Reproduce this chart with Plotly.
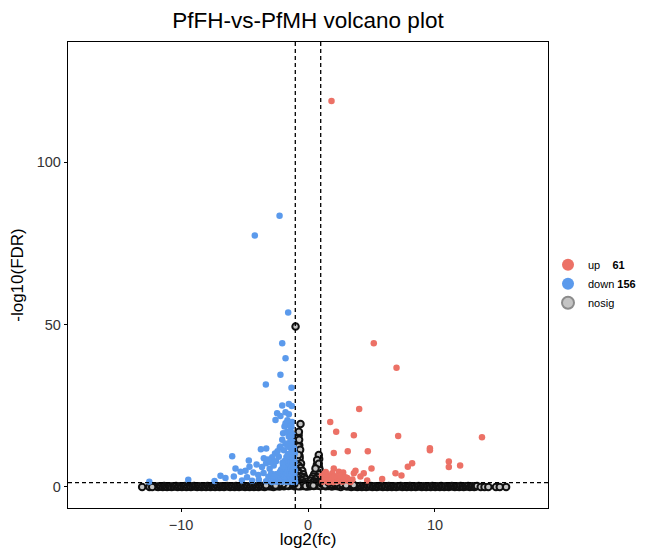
import plotly.graph_objects as go

# log2 fold change / -log10(FDR)
up_x = [1.85, 5.18, 6.97, 4.03, 1.75, 2.22, 3.61, 7.10, 13.70, 2.03,
        3.13, 4.71, 9.60, 9.60, 11.09, 11.09, 11.98, 8.20, 7.86, 5.00,
        6.89, 7.36, 5.84, 4.39, 4.13, 3.61, 3.74, 2.03, 2.43, 2.77,
        1.91, 3.35, 4.66, 2.61, 3.09,
        1.15, 1.20, 1.30, 1.35, 1.45, 1.50, 1.60, 1.65, 1.75, 1.80,
        1.90, 2.00, 2.10, 2.15, 2.25, 2.35, 2.50, 2.55, 2.70, 2.85,
        2.95, 1.25, 1.40, 1.10, 3.20, 3.50]
up_y = [118.8, 44.2, 36.7, 24.0, 20.0, 17.0, 15.9, 15.7, 15.3, 10.4,
        11.0, 11.0, 11.9, 11.3, 7.8, 6.1, 6.6, 7.3, 6.2, 5.7,
        4.2, 3.5, 2.4, 4.2, 3.2, 4.2, 5.0, 5.7, 4.7, 4.4,
        4.2, 1.5, 2.0, 2.2, 2.7,
        1.6, 2.4, 3.1, 1.9, 2.7, 3.6, 1.5, 2.2, 3.0, 1.8,
        2.6, 1.5, 3.3, 2.0, 2.9, 1.7, 2.3, 3.4, 1.6, 2.1,
        3.0, 4.0, 4.6, 3.5, 1.8, 2.3]

down_x = [-2.24, -4.19, -1.56, -2.03, -1.77, -2.17, -3.32, -1.30, -2.03, -1.51,
          -1.28, -2.43, -1.77, -1.51, -2.56, -2.17, -1.96, -1.51, -2.03, -1.64,
          -1.30, -1.25, -1.45, -1.35, -1.20, -1.40, -3.71, -3.29, -2.22, -1.77,
          -2.17, -5.97, -4.66, -3.48, -2.82, -2.30, -6.89, -6.50, -5.84, -5.71,
          -5.31, -4.92, -4.61, -7.36, -3.87, -12.50, -9.43, -4.05, -3.62, -3.30,
          -3.02, -2.70, -2.52, -4.30, -3.92, -3.50, -3.12, -2.90, -4.80, -5.20,
          -4.40, -3.30, -2.75, -2.95, -3.15, -2.60, -2.40, -1.90, -1.85, -1.62,
          -1.02, -1.05, -1.08, -1.03, -1.10, -1.06, -1.12, -1.04, -1.15, -1.18,
          -1.14, -1.20, -1.17, -1.22, -1.19, -1.25, -1.28, -1.24, -1.30, -1.27,
          -1.33, -1.29, -1.36, -1.39, -1.35, -1.42, -1.38, -1.45, -1.48, -1.50,
          -1.46, -1.53, -1.56, -1.52, -1.58, -1.62, -1.60, -1.65, -1.68, -1.64,
          -1.72, -1.75, -1.70, -1.78, -1.82, -1.85, -1.80, -1.88, -1.92, -1.95,
          -1.90, -1.98, -2.02, -2.05, -2.08, -2.12, -2.15, -2.18, -2.22, -2.26,
          -2.30, -2.33, -2.37, -2.42, -2.46, -2.50, -2.55, -2.60, -2.65, -2.70,
          -2.78, -2.85, -1.10, -1.32, -1.58, -1.20, -1.44, -1.70, -1.84, -2.00,
          -1.77, -1.38, -1.64, -1.38, -1.24, -1.51]
down_y = [83.5, 77.4, 53.7, 44.2, 39.6, 34.5, 31.5, 30.5, 25.1, 25.5,
          24.9, 22.7, 23.0, 22.4, 20.6, 21.8, 16.5, 15.5, 14.5, 12.9,
          18.5, 20.0, 19.0, 17.0, 16.0, 14.0, 11.6, 11.8, 12.1, 13.4,
          12.4, 9.4, 8.1, 8.8, 9.1, 9.3, 3.4, 2.7, 3.2, 5.7,
          4.7, 5.0, 6.2, 1.8, 2.2, 1.6, 2.2, 6.9, 6.1, 7.3,
          5.6, 6.6, 7.9, 4.4, 3.7, 4.3, 3.1, 4.1, 3.0, 2.0,
          1.9, 1.7, 2.6, 7.6, 8.4, 10.3, 11.0, 11.3, 18.6, 20.5,
          1.5, 2.6, 3.8, 5.1, 6.3, 7.6, 8.9, 10.2, 1.9, 3.2,
          4.5, 5.8, 7.1, 8.4, 9.7, 1.6, 2.9, 4.1, 5.4, 6.7,
          8.0, 10.8, 2.2, 3.5, 4.8, 6.0, 7.3, 9.0, 1.7, 3.0,
          4.3, 5.6, 6.9, 8.2, 2.4, 3.7, 5.0, 6.3, 7.6, 1.5,
          2.8, 4.1, 5.4, 6.6, 1.9, 3.2, 4.5, 5.8, 2.5, 3.8,
          5.0, 6.2, 1.6, 2.9, 4.2, 5.3, 2.2, 3.5, 4.6, 1.8,
          3.0, 4.0, 2.4, 3.4, 1.6, 2.8, 3.9, 2.0, 3.1, 1.7,
          2.3, 1.5, 11.8, 11.9, 10.1, 12.8, 12.2, 9.2, 8.0, 7.4,
          19.6, 18.7, 17.0, 15.6, 14.0, 12.4]

# the dense non-significant band along the bottom
band_x = [-11.92, -11.81, -11.67, -11.58, -11.44, -11.33, -11.21, -11.10, -10.97, -10.86,
          -10.74, -10.61, -10.52, -10.39, -10.27, -10.16, -10.03, -9.93, -9.80, -9.68,
          -9.57, -9.45, -9.31, -9.22, -9.09, -8.97, -8.86, -8.73, -8.62, -8.50,
          -8.38, -8.27, -8.14, -8.03, -7.91, -7.79, -7.68, -7.55, -7.44, -7.32,
          -7.20, -7.09, -6.96, -6.85, -6.73, -6.61, -6.50, -6.37, -6.26, -6.14,
          -6.02, -5.91, -5.78, -5.67, -5.55, -5.43, -5.32, -5.19, -5.08, -4.96,
          -4.84, -4.73, -4.60, -4.49, -4.37, -4.25, -4.14, -4.01, -3.90, -3.78,
          -3.66, -3.55, -3.42, -3.31, -3.19, -3.07, -2.96, -2.83, -2.72, -2.60,
          -2.48, -2.37, -2.24, -2.13, -2.01, -1.89, -1.78, -1.65, -1.54, -1.42,
          -1.30, -1.19, -1.06, -0.95, -0.83, -0.71, -0.60, -0.47, -0.36, -0.24,
          -0.12, -0.01, 0.11, 0.22, 0.35, 0.46, 0.58, 0.70, 0.81, 0.94,
          1.05, 1.17, 1.29, 1.40, 1.53, 1.64, 1.76, 1.88, 1.99, 2.12,
          2.23, 2.35, 2.47, 2.58, 2.71, 2.82, 2.94, 3.06, 3.17, 3.30,
          3.41, 3.53, 3.65, 3.76, 3.89, 4.00, 4.12, 4.24, 4.35, 4.48,
          4.59, 4.71, 4.83, 4.94, 5.07, 5.18, 5.30, 5.42, 5.53, 5.66,
          5.77, 5.89, 6.01, 6.12, 6.25, 6.36, 6.48, 6.60, 6.71, 6.84,
          6.95, 7.07, 7.19, 7.30, 7.43, 7.54, 7.66, 7.78, 7.89, 8.02,
          8.13, 8.25, 8.37, 8.48, 8.61, 8.72, 8.84, 8.96, 9.07, 9.20,
          9.31, 9.43, 9.55, 9.66, 9.79, 9.90, 10.02, 10.14, 10.25, 10.38,
          10.49, 10.61, 10.73, 10.84, 10.97, 11.08, 11.20, 11.32, 11.43, 11.56,
          11.67, 11.79, 11.91, 12.02, 12.15, 12.26, 12.38, 12.50, 12.61, 12.74,
          12.85, 12.97, 13.09, 13.20, 13.31]
band_y = [0.1, 0.0, 0.2, 0.1, 0.0, 0.3, 0.1, 0.0, 0.2, 0.1,
          0.0, 0.2, 0.1, 0.3, 0.0, 0.1, 0.2, 0.0, 0.1, 0.3,
          0.0, 0.1, 0.2, 0.0, 0.1, 0.3, 0.1, 0.0, 0.2, 0.1,
          0.0, 0.2, 0.1, 0.0, 0.3, 0.1, 0.0, 0.2, 0.1, 0.0,
          0.3, 0.1, 0.0, 0.2, 0.1, 0.0, 0.2, 0.3, 0.1, 0.0,
          0.2, 0.1, 0.0, 0.3, 0.1, 0.0, 0.2, 0.1, 0.3, 0.0,
          0.1, 0.2, 0.0, 0.1, 0.3, 0.0, 0.2, 0.1, 0.0, 0.2,
          0.3, 0.1, 0.0, 0.3, 0.2, 0.4, 0.1, 0.3, 0.0, 0.4,
          0.2, 0.5, 0.1, 0.4, 0.6, 0.2, 0.5, 0.7, 0.3, 0.6,
          0.4, 0.7, 0.2, 0.6, 0.4, 0.7, 0.2, 0.5, 0.3, 0.4,
          0.1, 0.3, 0.2, 0.4, 0.5, 0.3, 0.6, 0.4, 0.7, 0.3,
          0.6, 0.4, 0.7, 0.2, 0.5, 0.3, 0.6, 0.1, 0.5, 0.3,
          0.4, 0.2, 0.5, 0.0, 0.4, 0.3, 0.4, 0.1, 0.3, 0.2,
          0.0, 0.3, 0.1, 0.2, 0.0, 0.1, 0.3, 0.0, 0.2, 0.1,
          0.0, 0.2, 0.1, 0.3, 0.0, 0.1, 0.2, 0.0, 0.1, 0.3,
          0.1, 0.0, 0.2, 0.1, 0.0, 0.3, 0.1, 0.0, 0.2, 0.1,
          0.0, 0.2, 0.1, 0.3, 0.0, 0.1, 0.2, 0.0, 0.1, 0.3,
          0.0, 0.1, 0.2, 0.0, 0.1, 0.3, 0.1, 0.0, 0.2, 0.1,
          0.0, 0.2, 0.1, 0.0, 0.3, 0.1, 0.0, 0.2, 0.1, 0.0,
          0.3, 0.1, 0.0, 0.2, 0.1, 0.0, 0.2, 0.3, 0.1, 0.0,
          0.2, 0.1, 0.0, 0.3, 0.1, 0.0, 0.2, 0.1, 0.3, 0.0,
          0.1, 0.2, 0.0, 0.1, 0.3]

# non-significant points around zero: the two spikes and what lies under the coloured clusters
core_points = [
    (-1.02, 2.5), (-0.93, 2.9), (-0.84, 3.3), (-0.77, 2.6), (-0.66, 3.0), (-0.57, 2.7),
    (-0.48, 2.3), (-0.41, 2.9), (-0.33, 1.8), (-0.26, 1.5), (-0.19, 1.1), (-0.12, 0.6),
    (-0.07, 0.4), (-1.04, 1.0), (-0.96, 1.4), (-0.87, 1.7), (-0.79, 1.3), (-0.71, 1.8),
    (-0.63, 1.4), (-0.56, 1.7), (-0.50, 1.3), (-0.43, 1.0), (-0.37, 0.8), (-0.31, 1.2),
    (-0.24, 0.9), (-0.99, 4.2), (-0.93, 4.6), (-0.86, 5.3), (-0.78, 5.9), (-0.70, 5.1),
    (-0.64, 6.3), (-0.58, 4.6), (-0.52, 3.8), (-0.47, 4.4), (-0.97, 6.4), (-0.89, 6.9),
    (-0.83, 7.5), (-0.74, 7.9), (-0.68, 7.4), (-0.61, 6.9), (-0.93, 8.6), (-0.86, 9.3),
    (-0.79, 10.2), (-0.73, 10.9), (-0.67, 9.6), (-0.91, 11.6), (-0.83, 12.2), (-0.77, 13.1),
    (-0.69, 12.8), (-0.81, 14.3), (-0.74, 15.8), (-0.78, 16.4),
    (-0.85, 15.0), (-0.80, 13.8), (-0.70, 14.5), (-0.88, 10.5), (-0.66, 8.8), (-0.82, 8.0),
    (-0.55, 7.2), (-0.90, 7.0), (-0.72, 6.5), (-0.60, 5.8), (-0.95, 5.5), (-0.45, 5.0),
    (-0.80, 4.8), (-0.68, 4.2), (-0.38, 3.9), (-0.92, 3.6), (-0.55, 3.3), (-0.30, 3.0),
    (-0.75, 2.8), (-0.22, 2.4), (-0.62, 2.2), (-0.88, 2.0), (-0.45, 1.9), (-0.15, 1.6),
    (-0.98, 1.5), (-0.35, 1.3), (-0.70, 1.2), (-0.52, 1.0), (-0.10, 0.9), (-0.85, 0.8),
    (-0.28, 0.7), (-0.60, 0.6), (-0.95, 0.5), (-0.40, 0.4), (-0.18, 0.3), (-0.78, 0.2),
    (-1.08, 0.9), (-1.16, 1.2), (-1.26, 0.7), (-1.44, 1.0), (-1.58, 1.2), (-1.72, 0.8),
    (-1.88, 1.1), (-2.02, 0.6), (-2.18, 1.0), (-2.33, 0.7), (-2.48, 1.1), (-2.62, 0.8),
    (-2.82, 1.0), (-3.00, 0.6), (-3.30, 0.5), (-1.20, 1.0), (-1.50, 0.8), (-1.80, 1.1),
    (-2.10, 0.7), (-2.40, 0.9), (-2.70, 0.6), (-1.35, 1.2), (-1.65, 0.5), (-1.95, 0.9),
    (-2.25, 1.1), (-2.55, 0.4),
    (0.18, 0.5), (0.25, 1.3), (0.33, 1.7), (0.41, 2.0), (0.47, 2.6), (0.53, 3.0),
    (0.58, 3.5), (0.63, 3.9), (0.69, 4.3), (0.74, 5.0), (0.81, 5.6), (0.87, 6.0),
    (0.83, 4.4), (0.91, 3.4), (0.97, 2.7), (1.03, 1.9), (0.95, 1.3), (0.86, 2.1),
    (0.77, 2.5), (0.66, 1.8), (0.57, 1.4), (0.44, 0.8), (0.62, 0.7), (0.79, 7.5),
    (0.88, 8.6), (0.70, 6.8), (1.02, 0.9),
    (0.78, 6.4), (0.92, 5.2), (0.65, 4.6), (0.50, 4.0), (0.88, 3.8), (0.40, 3.2),
    (0.75, 3.0), (0.30, 2.6), (0.60, 2.4), (0.95, 2.2), (0.22, 1.9), (0.48, 1.7),
    (0.80, 1.5), (0.35, 1.3), (0.68, 1.2), (0.15, 1.0), (0.55, 0.9), (0.90, 0.8),
    (0.28, 0.6), (0.72, 0.5), (0.42, 0.4), (0.98, 0.3),
    (1.08, 1.0), (1.25, 1.2), (1.42, 0.8), (1.58, 1.0), (1.72, 1.2), (1.95, 0.8),
    (2.18, 1.1), (2.52, 0.9), (2.85, 1.1), (3.30, 0.7), (3.60, 0.6), (1.20, 0.9),
    (1.50, 1.1), (1.80, 0.7), (2.10, 1.0), (2.40, 0.6), (2.70, 0.9), (3.00, 0.5),
    (1.35, 0.5), (1.65, 1.2), (2.25, 1.2),
]

# isolated grey circles: the tips of the spikes and the far ends of the band
loose_points = [
    (-0.98, 49.4), (-0.59, 19.4), (-0.72, 17.0), (-0.75, 12.4), (-0.62, 11.4), (-0.76, 9.8),
    (0.85, 9.8), (0.72, 8.3), (0.85, 7.1), (0.59, 5.7),
    (-13.06, 0.0), (-12.48, 0.0), (-12.27, 0.0), (13.60, 0.0), (13.90, 0.0), (14.20, 0.0),
    (14.80, 0.0), (15.10, 0.0), (15.60, 0.0),
]

FC_CUT = 1
FDR_CUT = 1.30103  # -log10(0.05)

FONT = "Arial, Liberation Sans, Helvetica, sans-serif"
UP_COLOR = "#ec7166"
DOWN_COLOR = "#5b9aec"
NOSIG_COLOR = "#c4c4c4"

nosig_x = band_x + [p[0] for p in core_points] + [p[0] for p in loose_points]
nosig_y = band_y + [p[1] for p in core_points] + [p[1] for p in loose_points]

fig = go.Figure()

fig.add_trace(
    go.Scatter(
        x=nosig_x,
        y=nosig_y,
        mode="markers",
        name="nosig",
        legendgroup="nosig",
        showlegend=False,
        marker=dict(size=6.5, color=NOSIG_COLOR, line=dict(color="#111111", width=2)),
    )
)
fig.add_trace(
    go.Scatter(
        x=up_x,
        y=up_y,
        mode="markers",
        name="up\u00a0\u00a0\u00a0\u00a0<b>61</b>",
        legendrank=1,
        marker=dict(size=6.5, color=UP_COLOR),
    )
)
fig.add_trace(
    go.Scatter(
        x=down_x,
        y=down_y,
        mode="markers",
        name="down <b>156</b>",
        legendrank=2,
        marker=dict(size=6.5, color=DOWN_COLOR),
    )
)
# legend key for the grey points (lighter outline than the crowded marks)
fig.add_trace(
    go.Scatter(
        x=[None],
        y=[None],
        mode="markers",
        name="nosig",
        legendgroup="nosig",
        legendrank=3,
        marker=dict(size=6.5, color=NOSIG_COLOR, line=dict(color="#8c8c8c", width=1)),
    )
)

for xv in (-FC_CUT, FC_CUT):
    fig.add_vline(x=xv, line=dict(color="black", width=1.3, dash="4px,3px"))
fig.add_hline(y=FDR_CUT, line=dict(color="black", width=1.3, dash="4px,3px"))

# the page puts the figure 8px in from the top-left corner
fig.update_layout(
    width=640,
    height=541,
    margin=dict(l=60, r=100, t=34, b=41, autoexpand=False),
    paper_bgcolor="white",
    plot_bgcolor="white",
    font=dict(family=FONT, color="black"),
    title=dict(
        text="PfFH-vs-PfMH volcano plot",
        x=300 / 640,
        xanchor="center",
        y=1 - 12 / 541,
        yanchor="middle",
        yref="container",
        font=dict(size=22.5, color="black"),
    ),
    legend=dict(
        x=1.0,
        y=0.553,
        xanchor="left",
        yanchor="top",
        font=dict(size=11, color="black"),
        itemsizing="constant",
        tracegroupgap=0,
        bgcolor="rgba(0,0,0,0)",
    ),
    showlegend=True,
)

fig.update_xaxes(
    range=[-18.9, 18.9],
    tickvals=[-10, 0, 10],
    showgrid=False,
    zeroline=False,
    showline=True,
    mirror=True,
    linecolor="black",
    linewidth=1.3,
    ticks="outside",
    ticklen=3,
    tickcolor="black",
    tickfont=dict(size=14.5, color="#333333"),
    title=dict(text="log2(fc)", font=dict(size=17, color="black"), standoff=9),
)
fig.update_yaxes(
    range=[-6.5, 137],
    tickvals=[0, 50, 100],
    showgrid=False,
    zeroline=False,
    showline=True,
    mirror=True,
    linecolor="black",
    linewidth=1.3,
    ticks="outside",
    ticklen=3,
    tickcolor="black",
    tickfont=dict(size=14.5, color="#333333"),
    title=dict(text="-log10(FDR)", font=dict(size=17, color="black"), standoff=9),
)

fig.write_html("out.html")
